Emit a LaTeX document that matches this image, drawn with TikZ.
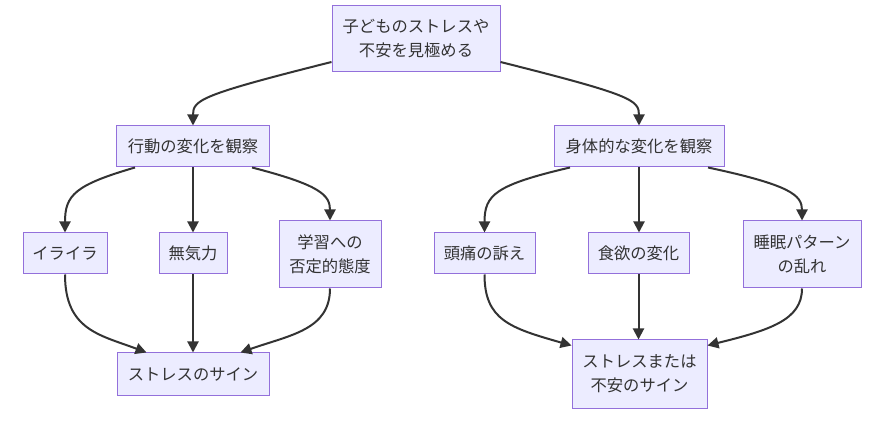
\documentclass[tikz,border=0pt]{standalone}
\usepackage{fontspec}
\setmainfont{Noto Sans CJK JP}
\usetikzlibrary{arrows.meta,calc}
\definecolor{nodefill}{HTML}{ECECFF}
\definecolor{nodeborder}{HTML}{9370DB}
\definecolor{edgecol}{HTML}{333333}
\definecolor{txtcol}{HTML}{333333}
\begin{document}
\begin{tikzpicture}[x=1pt,y=-1pt,
  box/.style={draw=nodeborder,fill=nodefill,line width=1pt,inner sep=0pt,align=center,
    text=txtcol,font=\fontsize{16.3}{24}\selectfont},
  edge/.style={draw=edgecol,line width=2pt,-{Triangle[length=11pt,width=11pt]}}]
\useasboundingbox (0,0) rectangle (875,427);
\fill[white] (0,0) rectangle (875,427);
\node[box,minimum width=168pt,minimum height=66pt] (root) at (416,39) {子どものストレスや\\不安を見極める};
\node[box,minimum width=153pt,minimum height=41pt] (A) at (193,146.5) {行動の変化を観察};
\node[box,minimum width=170pt,minimum height=41pt] (B) at (639,146.5) {身体的な変化を観察};
\node[box,minimum width=84pt,minimum height=41pt] (a1) at (65,253.5) {イライラ};
\node[box,minimum width=68pt,minimum height=41pt] (a2) at (193,253.5) {無気力};
\node[box,minimum width=102pt,minimum height=67pt] (a3) at (330,254.5) {学習への\\否定的態度};
\node[box,minimum width=101pt,minimum height=41pt] (b1) at (484.5,253.5) {頭痛の訴え};
\node[box,minimum width=101pt,minimum height=41pt] (b2) at (638.5,253.5) {食欲の変化};
\node[box,minimum width=118pt,minimum height=67pt] (b3) at (802,254.5) {睡眠パターン\\の乱れ};
\node[box,minimum width=152pt,minimum height=42pt] (S1) at (193,374) {ストレスのサイン};
\node[box,minimum width=135pt,minimum height=68pt] (S2) at (639.5,374) {ストレスまたは\\不安のサイン};
% edges
\draw[edge] ($(root.west)+(0,23)$) .. controls (200,95) and (193,100) .. (A.north);
\draw[edge] ($(root.east)+(0,23)$) .. controls (632,95) and (639,100) .. (B.north);
\draw[edge] ($(A.south)+(-58,0)$) .. controls (75,185) and (65,195) .. (a1.north);
\draw[edge] (A.south) -- (a2.north);
\draw[edge] ($(A.south)+(59,0)$) .. controls (320,185) and (330,195) .. (a3.north);
\draw[edge] ($(B.south)+(-69,0)$) .. controls (495,185) and (484.5,195) .. (b1.north);
\draw[edge] (B.south) -- (B.south|-b2.north);
\draw[edge] ($(B.south)+(69,0)$) .. controls (790,185) and (802,195) .. (b3.north);
\draw[edge] (a1.south) .. controls (65,330) and (100,335) .. ($(S1.north west)+(30,0)$);
\draw[edge] (a2.south) -- (S1.north);
\draw[edge] (a3.south) .. controls (330,330) and (290,335) .. ($(S1.north east)+(-29,0)$);
\draw[edge] (b1.south) .. controls (484.5,320) and (510,328) .. ($(S2.north west)+(0,6)$);
\draw[edge] (b2.south) -- (b2.south|-S2.north);
\draw[edge] (b3.south) .. controls (802,320) and (770,330) .. ($(S2.north east)+(0,6)$);
\end{tikzpicture}
\end{document}
